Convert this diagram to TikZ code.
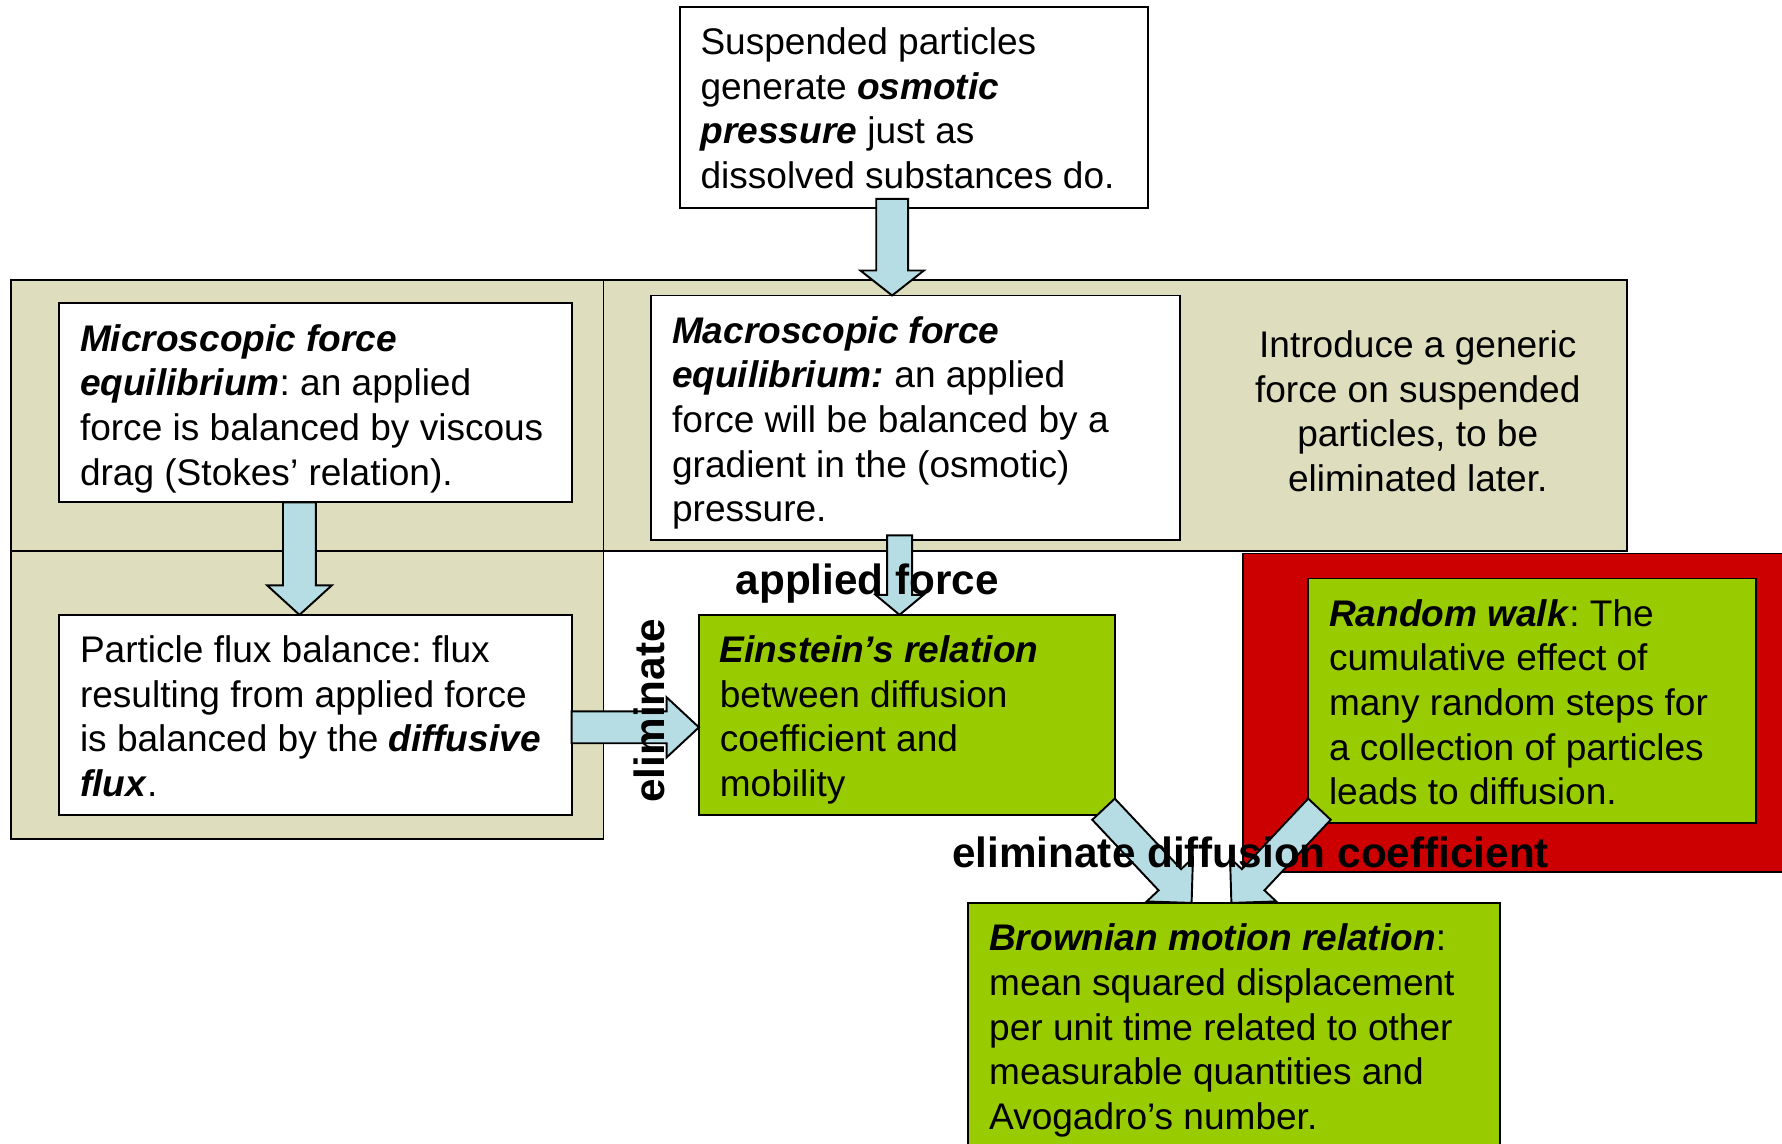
\documentclass[tikz,border=0pt]{standalone}
\usepackage{fontspec}
\setmainfont{Liberation Sans}
\usetikzlibrary{calc,fit}
\frenchspacing

\definecolor{tancell}{RGB}{222,222,190}
\definecolor{aqua}{RGB}{183,221,228}
\definecolor{leaf}{RGB}{153,204,0}
\definecolor{crimson}{RGB}{204,0,0}

\newcommand{\bfit}[1]{\textbf{\textit{#1}}}
\newcommand{\bodytext}{\fontsize{16.3pt}{19.65pt}\selectfont}
\newcommand{\labeltext}{\fontsize{18.6pt}{22pt}\selectfont\bfseries}
\newcommand{\boxtext}[1]{\parbox[t]{240pt}{\bodytext\frenchspacing\raggedright #1}}
\newcommand{\centertext}[1]{\parbox[t]{240pt}{\bodytext\frenchspacing\centering #1}}

% block arrow from tail (#1) to tip (#2): half shaft width #3, half head width #4, head length #5
\newcommand{\blockarrow}[5]{%
  \coordinate (ba-h) at ($(#2)!#5!(#1)$);
  \draw[blockarr] ($(#1)!#3!90:(#2)$) -- ($(ba-h)!#3!90:(#2)$) -- ($(ba-h)!#4!90:(#2)$) -- (#2)
    -- ($(ba-h)!#4!-90:(#2)$) -- ($(ba-h)!#3!-90:(#2)$) -- ($(#1)!#3!-90:(#2)$) -- cycle;}

\begin{document}
\begin{tikzpicture}[x=0.5pt, y=-0.5pt,
  frame/.style={draw=black, line width=0.85pt, inner sep=0pt, outer sep=0pt},
  cell/.style={frame, fill=tancell},
  whitebox/.style={frame, fill=white},
  greenbox/.style={frame, fill=leaf},
  redbox/.style={frame, fill=crimson},
  blockarr/.style={draw=black, line width=0.85pt, fill=aqua, line join=miter},
  body/.style={inner sep=0pt, anchor=base west, font=\bodytext},
  lbl/.style={inner sep=0pt, anchor=base west, font=\labeltext}]

\useasboundingbox (0,0) rectangle (1568,1006);
\clip (0,0) rectangle (1568,1006);
\fill[white] (0,0) rectangle (1568,1006);

% tan grid cells
\node[cell, fit={(10,246) (531,485)}] (cellL) {};
\node[cell, fit={(531,246) (1432,485)}] (cellR) {};
\node[cell, fit={(10,485) (531,738)}] (cellB) {};

% red frame behind the random-walk box
\node[redbox, fit={(1094,487) (1600,767)}] (redframe) {};

% boxes
\node[whitebox, fit={(598,6) (1010,183)}] (top) {};
\node[whitebox, fit={(52,267) (503,442)}] (micro) {};
\node[whitebox, fit={(573,260) (1038,475)}] (macro) {};
\node[whitebox, fit={(52,541) (503,717)}] (flux) {};
\node[greenbox, fit={(615,541) (981,717)}] (einstein) {};
\node[greenbox, fit={(1151,509) (1545,724)}] (walk) {};
\node[greenbox, fit={(852,794.5) (1320,1030)}] (brown) {};

% arrow end points
\coordinate (a1s) at ($(top.south west)+(187,-8)$);
\coordinate (a1e) at ($(macro.north west)+(212,0)$);
\coordinate (a2s) at ($(micro.south west)+(211.5,0)$);
\coordinate (a2e) at ($(flux.north west)+(211.5,0)$);
\coordinate (a3s) at ($(flux.north east)+(0,99)$);
\coordinate (a3e) at ($(einstein.north west)+(0,99)$);
\coordinate (a4s) at ($(macro.south west)+(218.5,-4)$);
\coordinate (a4e) at ($(einstein.north west)+(176.5,0)$);
\coordinate (a5s) at ($(einstein.south east)+(-10,-5)$);
\coordinate (a5e) at ($(brown.north west)+(196.5,0)$);
\coordinate (a6s) at ($(walk.south west)+(10,-12)$);
\coordinate (a6e) at ($(brown.north west)+(231.5,0)$);

% arrows
\blockarrow{a1s}{a1e}{7pt}{14pt}{11pt}
\blockarrow{a2s}{a2e}{7.25pt}{14.25pt}{13pt}
\blockarrow{a3s}{a3e}{7pt}{13.25pt}{14.25pt}
\blockarrow{a4s}{a4e}{5.5pt}{10.5pt}{8.75pt}
\blockarrow{a5s}{a5e}{6.8pt}{13.95pt}{14pt}
\blockarrow{a6s}{a6e}{6.8pt}{13.95pt}{14pt}

% box texts
\node[body] (toptext) at ($(top.north west)+(18,42)$)
  {\boxtext{Suspended particles\\generate \bfit{osmotic}\\\bfit{pressure} just as\\dissolved substances do.}};
\node[body] (microtext) at ($(micro.north west)+(18,42)$)
  {\boxtext{\bfit{Microscopic force}\\\bfit{equilibrium}: an applied\\force is balanced by viscous\\drag (Stokes’ relation).}};
\node[body] (macrotext) at ($(macro.north west)+(18,42)$)
  {\boxtext{\bfit{Macroscopic force}\\\bfit{equilibrium:} an applied\\force will be balanced by a\\gradient in the (osmotic)\\pressure.}};
\node[body, anchor=base] (introtext) at ($(cellR.north east)+(-184.5,68.5)$)
  {\centertext{Introduce a generic\\force on suspended\\particles, to be\\eliminated later.}};
\node[body] (fluxtext) at ($(flux.north west)+(18,42)$)
  {\boxtext{Particle flux balance: flux\\resulting from applied force\\is balanced by the \bfit{diffusive}\\\bfit{flux}.}};
\node[body] (einsteintext) at ($(einstein.north west)+(18,42)$)
  {\boxtext{\bfit{Einstein’s relation}\\between diffusion\\coefficient and\\mobility}};
\node[body] (walktext) at ($(walk.north west)+(18,42)$)
  {\boxtext{\bfit{Random walk}: The\\cumulative effect of\\many random steps for\\a collection of particles\\leads to diffusion.}};
\node[body] (browntext) at ($(brown.north west)+(18,42)$)
  {\boxtext{\bfit{Brownian motion relation}:\\mean squared displacement\\per unit time related to other\\measurable quantities and\\Avogadro’s number.}};

% connector labels
\node[lbl] (lblforce) at ($(einstein.north west)+(32,-18)$) {applied force};
\node[lbl, rotate=90] (lblelim) at ($(einstein.south west)+(-30.5,-10.4)$) {eliminate};
\node[lbl] (lbldiff) at ($(brown.north west)+(-14.5,-31)$) {eliminate diffusion coefficient};

\end{tikzpicture}
\end{document}
